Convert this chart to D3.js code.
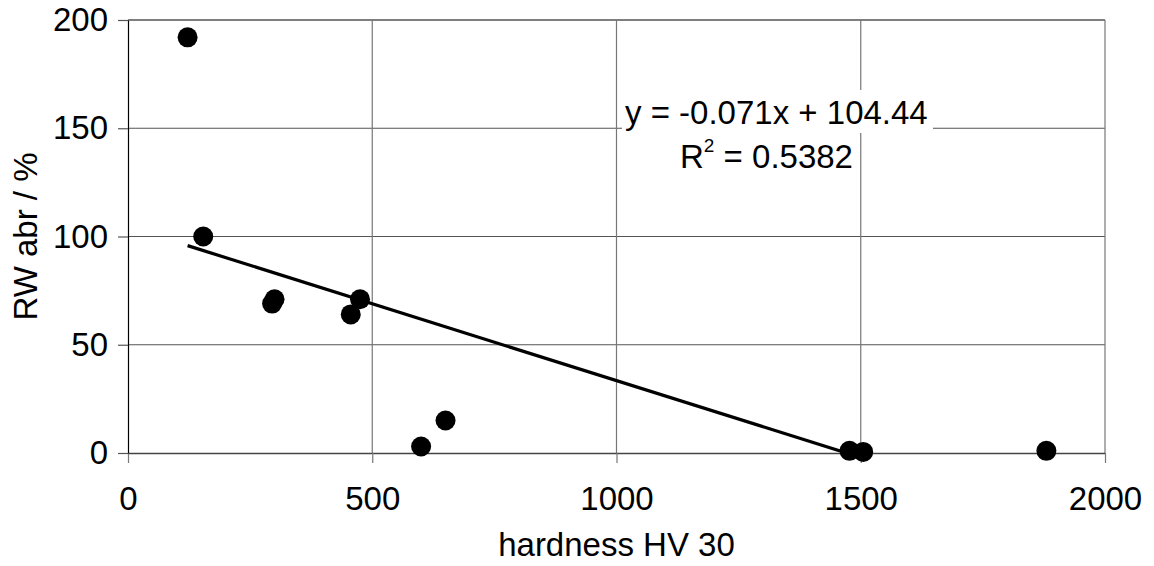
<!DOCTYPE html>
<html>
<head>
<meta charset="utf-8">
<script src="https://cdn.jsdelivr.net/npm/d3@7"></script>
<style>
  html, body { margin: 0; padding: 0; background: #fff; }
  svg { display: block; font-family: 'Liberation Sans', Arial, sans-serif; }
</style>
</head>
<body>
<svg id="chart" width="1154" height="566"></svg>
<script>
// values
const hardness = [122, 154, 295, 300, 456, 475, 600, 650, 1477, 1505, 1880];
const rwAbr = [192, 100, 69, 71, 64, 71, 3, 15, 1, 0.5, 1];
const xTicks = [0, 500, 1000, 1500, 2000];
const yTicks = [0, 50, 100, 150, 200];
const trendSlope = -0.071;
const trendIntercept = 104.44;
const trendR2 = 0.5382;

const FONT = "'Liberation Sans', Arial, sans-serif";
const FONT_SIZE = 33;

const svg = d3.select('#chart');
const plotLeft = 128, plotRight = 1105, plotTop = 20, plotBottom = 453;

const x = d3.scaleLinear().domain([0, 2000]).range([plotLeft, plotRight]);
const y = d3.scaleLinear().domain([0, 200]).range([plotBottom, plotTop]);

// grid
svg.append('g')
  .selectAll('line')
  .data(yTicks.filter((d) => d > 0))
  .join('line')
  .attr('x1', plotLeft).attr('x2', plotRight)
  .attr('y1', (d) => y(d)).attr('y2', (d) => y(d))
  .attr('stroke', (d) => (d === 200 ? '#000' : '#555'))
  .attr('stroke-width', 1.2);

svg.append('g')
  .selectAll('line')
  .data(xTicks.filter((d) => d > 0))
  .join('line')
  .attr('x1', (d) => x(d)).attr('x2', (d) => x(d))
  .attr('y1', plotTop).attr('y2', plotBottom)
  .attr('stroke', '#777')
  .attr('stroke-width', 1.2);

// axes
const xAxis = svg.append('g')
  .attr('transform', `translate(0, ${plotBottom})`)
  .call(d3.axisBottom(x).tickValues(xTicks).tickFormat(d3.format('d'))
    .tickSize(10).tickSizeOuter(0).tickPadding(24));
xAxis.select('.domain').attr('stroke', '#444').attr('stroke-width', 1.5);
xAxis.selectAll('.tick line').attr('stroke', '#777').attr('stroke-width', 1.2);
xAxis.selectAll('text')
  .attr('font-size', FONT_SIZE).attr('fill', '#000').attr('font-family', FONT);

const yAxis = svg.append('g')
  .attr('transform', `translate(${plotLeft}, 0)`)
  .call(d3.axisLeft(y).tickValues(yTicks).tickFormat(d3.format('d'))
    .tickSize(10).tickSizeOuter(0).tickPadding(10));
yAxis.select('.domain').attr('stroke', '#000').attr('stroke-width', 1.2);
yAxis.selectAll('.tick line').attr('stroke', '#555').attr('stroke-width', 1.2);
yAxis.selectAll('text')
  .attr('font-size', FONT_SIZE).attr('fill', '#000').attr('font-family', FONT);

// trend line, clipped to the plot area
svg.append('clipPath').attr('id', 'plot')
  .append('rect')
  .attr('x', plotLeft).attr('y', plotTop)
  .attr('width', plotRight - plotLeft).attr('height', plotBottom - plotTop);

const xMin = d3.min(hardness), xMax = d3.max(hardness);
svg.append('line')
  .attr('clip-path', 'url(#plot)')
  .attr('x1', x(xMin)).attr('y1', y(trendSlope * xMin + trendIntercept))
  .attr('x2', x(xMax)).attr('y2', y(trendSlope * xMax + trendIntercept))
  .attr('stroke', '#000')
  .attr('stroke-width', 3.2);

// points
svg.append('g')
  .selectAll('circle')
  .data(hardness.map((h, i) => ({ h, r: rwAbr[i] })))
  .join('circle')
  .attr('cx', (d) => x(d.h))
  .attr('cy', (d) => y(d.r))
  .attr('r', 10)
  .attr('fill', '#000');

// equation label
const eq = svg.append('g').attr('font-size', FONT_SIZE);
eq.append('rect')
  .attr('x', 622).attr('y', 90).attr('width', 311).attr('height', 43)
  .attr('fill', '#fff');
eq.append('text')
  .attr('x', 625).attr('y', 124)
  .text(`y = ${trendSlope}x + ${trendIntercept}`);
const r2 = eq.append('text')
  .attr('x', 680).attr('y', 168);
r2.append('tspan').text('R');
r2.append('tspan').attr('font-size', 19).attr('dx', 0).attr('dy', -16).text('2');
r2.append('tspan').attr('dy', 16).text(` = ${trendR2}`);

// axis titles
svg.append('text')
  .attr('x', (plotLeft + plotRight) / 2).attr('y', 556)
  .attr('text-anchor', 'middle')
  .attr('font-size', FONT_SIZE)
  .text('hardness HV 30');

svg.append('text')
  .attr('transform', `translate(37, ${(plotTop + plotBottom) / 2}) rotate(-90)`)
  .attr('text-anchor', 'middle')
  .attr('font-size', FONT_SIZE)
  .text('RW abr / %');
</script>
</body>
</html>
